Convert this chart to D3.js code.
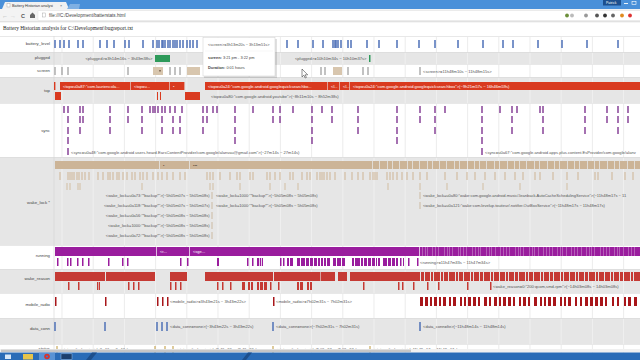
<!DOCTYPE html>
<html><head><meta charset="utf-8">
<script src="https://cdn.jsdelivr.net/npm/d3@7"></script>
<style>body{margin:0;overflow:hidden;background:#fff}svg{display:block}</style>
</head><body><svg id="c" width="640" height="360"></svg>
<script>
// ---------------- DATA (time offsets along the timeline) ----------------
const rowNames = ["battery_level","plugged","screen","top","sync","wake_lock *","running","wake_reason","mobile_radio","data_conn","status"];
const hourGrid = d3.range(7, 585, 31.2);

const batteryLevelTicks = [0,5,9,14,23,28,45,52,59,70,74,88,98,102,104,107,108,110,113,115,118,120,122,125,128,132,135,138,142,155,168,180,196,210,232,243,258,268,278,280,281,283,286,293,296,312,324,342,364,380,403,428,448,458,483,507,532,563];

const pluggedSpans = [[100,115],[314,315.5]];
const pluggedNotes = [{t:100,text:"<plugged>=3h14m16s ~ 3h43m38s>",anchor:"end"},{t:314,text:"<plugged>=10h10m34s ~ 10h10m37s>",anchor:"end"}];

const screenTicks = [0,7,13,73,115,120,125,266,270,293,308,313,365];
const screenSpans = [[98,108],[132,145],[150,162],[278,287]];
const screenNotes = [{t:365,text:"<screen>=11h48m10s ~ 11h48m15s>",anchor:"start"}];

const topLane1 = [
  {s:-1,e:1,label:""},
  {s:5,e:76,label:'<top=u0a87:"com.lauriencola...'},
  {s:76,e:115,label:"<top=u..."},
  {s:115,e:130,label:"•"},
  {s:150,e:273,label:'<top=u0a24:"com.google.android.googlequicksearchbo...'},
  {s:273,e:285,label:"<l..."},
  {s:285,e:295,label:"<l..."},
  {s:295,e:590,label:'<top=u0a24:"com.google.android.googlequicksearchbox">(~9h21m57s ~ 16h46m59s)'}
];
const topLane2 = [[0,6],[102,103],[105,106],[130,145]];
const topNotes = [{t:153,text:'<top=u0a80:"com.google.android.youtube">(~8h11m10s ~ 8h52m38s)',anchor:"start"}];

const syncLanes = [
  [9,13,25,28,55,73,87,95,98,100,103,107,110,115,120,127,148,152,158,162,180,198,218,225,238,257,267,277,303,342,365,380,390,427,445,457,462,485,488,530,552,563,573],
  [13,25,28,55,73,87,107,118,125,148,152,180,218,225,257,277,303,342,365,380,427,457,488,530,552,563,573],
  [13,25,55,87,107,118,125,148,180,257,303,342,380,427,457,488,530,563],
  [13,180,257,342,427],
  [13,427]
];
const syncNotes = [
  {t:13,text:'<sync=u0a48:"com.google.android.users.heard.EarsContentProvider/com.google/alanvau@gmail.com">(~27m14s ~ 27m14s)',anchor:"start"},
  {t:427,text:'<sync=u0a67:"com.google.android.apps.plus.content.EsProvider/com.google/alanv',anchor:"start"}
];

const wakeLockBarBreaks = [0,105,135,318,325,333,338,345,353,358,365,373,378,385,392,400,405,413,420,425,432,440,445,453,460,465,472,480,485,493,500,505,513,520,525,533,540,545,553,560,565,573,580,590];
const wakeLockBarLabels = [{t:105,text:"•"},{t:135,text:"•••"}];
const wakeLockLane2 = [5,13,15,17,19,22,24,27,30,34,43,48,53,55,58,62,64,68,72,77,80,85,88,92,98,103,107,112,118,125,130,152,155,158,165,175,182,185,195,198,212,215,220,225,235,238,247,252,255,262,265,267,269,272,275,280,290,297,303,308,315,318,320,322,332,335,338,342,347,352,358,365,372,390,402,412,420,430,440,450,460,468,480,485,498,512,523,540,543,557,570,578];
const wakeLockLane3 = [12,15,23,25,87,155,158,185,215,230,243,333,365,392,428,465,512];
const wakeLockEventT = 157;
const wakeLockLeftNotes = [
  '<wake_lock=u0a73:"*backup*">(~5h05m07s ~ 5h05m08s)',
  '<wake_lock=u0a118:"*backup*">(~5h05m07s ~ 5h05m07s)',
  '<wake_lock=u0a56:"*backup*">(~5h05m08s ~ 5h05m08s)',
  '<wake_lock=1000:"*backup*">(~5h05m08s ~ 5h05m08s)',
  '<wake_lock=u0a72:"*backup*">(~5h05m08s ~ 5h05m08s)'
];
const wakeLockMidNotes = [
  '<wake_lock=1000:"*backup*">(~5h05m08s ~ 5h05m08s)',
  '<wake_lock=1000:"*backup*">(~5h05m08s ~ 5h05m08s)'
];
const wakeLockLateT = 365;
const wakeLockRightNotes = [
  '<wake_lock=u0a80:"wake:com.google.android.music/.leanback.AutoCacheSchedulingService">(~11h48m17s ~ 11',
  '<wake_lock=u0a121:"wake:com.levelup.touiteur/.notifier.OutBoxService">(~11h48m17s ~ 11h48m17s)'
];

const runningBarBreaks = [0,102,135,365,368,371,373,378,381,384,390,393,395,398,404,406,409,412,418,421,424,426,432,435,437,441,446,449,452,455,461,464,466,469,475,478,480,484,489,492,495,498,503,506,508,512,517,520,523,527,532,535,537,540,546,549,552,555,560,563,565,569,574,577,580,590];
const runningBarLabels = [{t:102,text:"<r..."},{t:135,text:"<sge..."}];
const runningLane2 = [[2,3.5],[12,13.5],[15,16.5],[22,23.5],[27,28.5],[33,34.5],[53,54.5],[67,68.5],[72,73.5],[125,126.5],[132,133.5],[162,164],[192,193.5],[197,198.5],[202,204],[204.8,206],[206.8,208],[225,226.5],[228,229.5],[232,234],[235,238],[242,245],[246,250],[251,254],[255,258],[259,262],[263,265],[266,268],[269,271],[272,275],[278,281],[282,286],[287,290],[297,299],[300,305],[306,308],[309,312],[313,316],[317,320],[321,322],[323,325],[328,332],[333,336],[337,340],[341,343],[345,346.5],[348,349],[353,354.5],[362,363.5]];
const runningNotes = [{t:362,text:"<running>=11h47m33s ~ 11h47m34s>",anchor:"start"}];

const wakeReasonBarSpans = [[0,50],[51,100],[115,132],[150,218],[219,265],[265.6,280],[283,292],[295,365],[366,369],[370,375],[376,378],[379,385],[386,388],[389,393],[394,400],[401,403],[404,408],[409,415],[416,418],[419,424],[425,428],[429,435],[436,438],[439,444],[445,450],[451,453],[454,459],[460,463],[464,470],[471,473],[474,478],[479,485],[486,488],[489,494],[495,498],[499,505],[506,508],[509,514],[515,520],[521,523],[524,529],[530,533],[534,540],[541,543],[544,549],[550,555],[556,558],[559,564],[565,568],[569,575],[576,578],[579,590]];
const wakeReasonLane2 = [[13,14.5],[23,24.5],[42,43.2],[43.8,45],[73,74.5],[78,79.5],[83,84.5],[115,116.5],[120,121.5],[125,126.5],[162,163.5],[167,168.5],[175,176.5],[187,190],[193,195],[196,198],[202,204],[205,208],[209,212],[215,216.5],[223,224.5],[242,244],[245,248],[252,254],[255,257],[308,309.5],[343,344.5],[347,348.5],[358,359.5],[372,373.5],[383,384.5],[412,413.5],[435,436.5]];
const wakeReasonNotes = [{t:435,text:'<wake_reason=0:"200:qcom,smd-rpm">(~14h03m08s ~ 14h03m08s)',anchor:"start"}];

const mobileRadioSpans = [[0,1.5],[50,51.5],[102,103.5],[107,108.5],[112,113.5],[218,219.5],[365,368],[370,373],[375,377],[379,382],[384,386],[388,391],[394,396],[398,401],[405,407],[409,411],[413,416],[418,421],[423,425],[429,432],[434,436],[439,442],[444,446],[448,451],[453,456],[458,460],[464,466],[468,471],[473,475],[479,482],[485,487],[489,491],[493,496],[498,501],[505,507],[509,511],[513,516],[520,522],[525,527],[530,533],[535,538],[540,543],[545,548],[550,552],[557,559],[562,564],[569,571],[573,576],[579,582]];
const mobileRadioNotes = [{t:112,text:"<mobile_radio>=3h43m21s ~ 3h43m22s>",anchor:"start"},{t:218,text:"<mobile_radio>=7h02m31s ~ 7h02m31s>",anchor:"start"}];

const dataConnTicks = [0,50,102,107,112,218,365];
const dataConnNotes = [{t:112,text:"<data_conn=none>(~3h43m22s ~ 3h43m22s)",anchor:"start"},{t:218,text:"<data_conn=none>(~7h02m31s ~ 7h02m31s)",anchor:"start"},{t:365,text:"<data_conn=lte>(~11h48m14s ~ 11h48m14s)",anchor:"start"}];

const statusTicks = [2,100,110,118,218,315];
const statusNotes = [{t:2,text:"<status=discharging>(~3m13s ~ 3m13s)",anchor:"start"},{t:118,text:"<status=discharging>(~3h43m22s ~ 3h43m22s)",anchor:"start"},{t:218,text:"<status=discharging>(~7h02m37s ~ 7h02m37s)",anchor:"start"},{t:315,text:"<status=discharging>(~11h48m17s ~ 11h48m17s)",anchor:"start"}];

const tooltipLines = ["<screen>=3h13m20s ~ 3h13m51s>","screen:","3:21 pm - 3:22 pm","Duration:","0:01 hours"];
const pageTitle = "Battery Historian analysis for C:\\Development\\bugreport.txt";
const pageUrl = "file:///C:/Development/batterstats.html";

// ---------------- LAYOUT ----------------
const svg = d3.select("#c");
const x = d3.scaleLinear().domain([0,585]).range([55,640]);
const rowBands = [[36,52],[52,64],[64,77],[77,103],[103,157],[157,245],[245,269],[269,293],[293,318],[318,344],[344,353]];
const rowLabelY = [45,59,72,92,132,204,257,280,306,330,350];
const greyRows = new Set([1,3,5,7,9]);
const F = "'Liberation Sans', Arial, sans-serif";

svg.append("rect").attr("width",640).attr("height",360).attr("fill","#fff");

const rows = svg.append("g");
rows.selectAll("rect").data(rowBands).join("rect")
  .attr("x",0).attr("y",d=>d[0]).attr("width",640).attr("height",d=>d[1]-d[0])
  .attr("fill",(d,i)=>greyRows.has(i)?"#e6e6e6":"#ffffff");
rows.selectAll("line.sep").data(rowBands).join("line").attr("class","sep")
  .attr("x1",0).attr("x2",640).attr("y1",d=>d[0]+0.5).attr("y2",d=>d[0]+0.5).attr("stroke","#d9d9d9").attr("stroke-width",0.6);

const grid = svg.append("g");
rowBands.forEach((b,i)=>{
  grid.selectAll(null).data(hourGrid).join("line")
    .attr("x1",d=>x(d)).attr("x2",d=>x(d)).attr("y1",b[0]+1).attr("y2",b[1])
    .attr("stroke",greyRows.has(i)?"#f4f4f4":"#e4e4e4").attr("stroke-width",0.7);
});
svg.append("line").attr("x1",54).attr("x2",54).attr("y1",36).attr("y2",353).attr("stroke","#d4d4d4").attr("stroke-width",0.6);

svg.append("g").selectAll("text").data(rowNames).join("text")
  .attr("x",50).attr("y",(d,i)=>rowLabelY[i]).attr("text-anchor","end")
  .attr("font-family",F).attr("font-size",4.3).attr("fill","#444").text(d=>d);

svg.append("clipPath").attr("id","clip").append("rect").attr("x",53).attr("y",30).attr("width",590).attr("height",330);
const C = svg.append("g").attr("clip-path","url(#clip)");

function ticks(times,y,h,color,w=1.4){
  C.append("g").selectAll("rect").data(times).join("rect")
   .attr("x",d=>x(d)-w/2).attr("y",y).attr("width",w).attr("height",h).attr("fill",color);
}
function spans(list,y,h,color){
  C.append("g").selectAll("rect").data(list).join("rect")
   .attr("x",d=>x(d[0])).attr("y",y).attr("width",d=>Math.max(1,x(d[1])-x(d[0]))).attr("height",h).attr("fill",color);
}
function segBar(breaks,y,h,color,gap=0.7){
  const segs = d3.pairs(breaks);
  C.append("g").selectAll("rect").data(segs).join("rect")
   .attr("x",d=>x(d[0])).attr("y",y).attr("width",d=>Math.max(0.6,x(d[1])-x(d[0])-gap)).attr("height",h).attr("fill",color);
}
function notes(list,y,color="#555",fs=4.1){
  C.append("g").selectAll("text").data(list).join("text")
   .attr("x",d=>d.anchor==="end"?x(d.t)-2.5:x(d.t)+3).attr("y",y)
   .attr("text-anchor",d=>d.anchor).attr("font-family",F).attr("font-size",fs).attr("fill",color).text(d=>d.text);
}

ticks(batteryLevelTicks,40,8,"#4d70b8",1.5);
spans(pluggedSpans,55,7,"#2e9a5a");
notes(pluggedNotes,60.2);
ticks(screenTicks,67,8,"#9a9a9a",1.2);
spans(screenSpans,67,8,"#d8c6ae");
C.append("rect").attr("x",x(104)).attr("y",70).attr("width",2).attr("height",1.5).attr("fill","#8a7560");
notes(screenNotes,72.5);
const TOP="#d93a1f";
C.append("g").selectAll("rect").data(topLane1).join("rect")
  .attr("x",d=>x(d.s)).attr("y",82).attr("width",d=>x(d.e)-x(d.s)-0.6).attr("height",8).attr("fill",TOP);
C.append("g").selectAll("text").data(topLane1).join("text")
  .attr("x",d=>x(d.s)+3).attr("y",87.5).attr("font-family",F).attr("font-size",4.1).attr("fill","#fff").text(d=>d.label);
spans(topLane2,92,8,TOP);
notes(topNotes,97.5);
const syncY=[106,116,127,137,148];
syncLanes.forEach((lane,i)=>ticks(lane,syncY[i],7,"#7f3590",1.4));
notes(syncNotes,153.5);
const WL="#ccb497";
segBar(wakeLockBarBreaks,161,8,WL,0.8);
C.append("g").selectAll("text").data(wakeLockBarLabels).join("text")
  .attr("x",d=>x(d.t)+3).attr("y",166.5).attr("font-family",F).attr("font-size",4).attr("fill","#5a4a3a").text(d=>d.text);
ticks(wakeLockLane2,172,8,"#d4c1a8",1.3);
ticks(wakeLockLane3,183,7,"#d4c1a8",1.1);
const wlY=[192,202,212,222,232];
wakeLockLeftNotes.forEach((t,i)=>{
  ticks([wakeLockEventT],wlY[i],7,"#cbb79c",0.9);
  notes([{t:wakeLockEventT,text:t,anchor:"end"}],wlY[i]+5,"#555",4.0);
});
wakeLockMidNotes.forEach((t,i)=>notes([{t:wakeLockEventT+1,text:t,anchor:"start"}],wlY[i]+5,"#555",4.0));
wakeLockRightNotes.forEach((t,i)=>{
  ticks([wakeLockLateT],wlY[i],7,"#cbb79c",0.9);
  notes([{t:wakeLockLateT,text:t,anchor:"start"}],wlY[i]+5,"#555",4.0);
});
const RUN="#9a1d9e";
C.append("rect").attr("x",x(365)).attr("y",247).attr("width",x(590)-x(365)).attr("height",9).attr("fill","#c27ac4");
segBar(runningBarBreaks,247,9,RUN,0.7);
C.append("g").selectAll("text").data(runningBarLabels).join("text")
  .attr("x",d=>x(d.t)+3).attr("y",253).attr("font-family",F).attr("font-size",4).attr("fill","#fff").text(d=>d.text);
spans(runningLane2,258,8,RUN);
notes(runningNotes,263.5);
const WR="#c53a34";
spans(wakeReasonBarSpans,272,9,WR);
spans(wakeReasonLane2,282,8,WR);
notes(wakeReasonNotes,287.5);
spans(mobileRadioSpans,297,9,"#a8161a");
notes(mobileRadioNotes,302.5);
ticks(dataConnTicks,322,9,"#4469b3",1.4);
notes(dataConnNotes,327.5);
ticks(statusTicks,346,8,"#c9aa5c",1.2);
notes(statusNotes,350.5,"#555",3.8);

svg.append("text").attr("x",3).attr("y",30).attr("font-family","'Liberation Serif', 'Times New Roman', serif")
  .attr("font-size",5.4).attr("fill","#222").text(pageTitle);

const tip = svg.append("g");
tip.append("rect").attr("x",204).attr("y",39).attr("width",73).attr("height",39).attr("fill","#000").attr("opacity",0.12);
tip.append("rect").attr("x",203).attr("y",37.5).attr("width",72).attr("height",38.5).attr("fill","#fff").attr("stroke","#cfcfcf").attr("stroke-width",0.5);
tip.append("text").attr("x",208).attr("y",46).attr("font-family",F).attr("font-size",3.9).attr("fill","#555").text(tooltipLines[0]);
tip.append("line").attr("x1",205).attr("x2",273).attr("y1",51).attr("y2",51).attr("stroke","#eee").attr("stroke-width",0.5);
const t2 = tip.append("text").attr("x",208).attr("y",59).attr("font-family",F).attr("font-size",3.9).attr("fill","#444");
t2.append("tspan").attr("font-weight","bold").text(tooltipLines[1]);
t2.append("tspan").text(" "+tooltipLines[2]);
const t3 = tip.append("text").attr("x",208).attr("y",69).attr("font-family",F).attr("font-size",3.9).attr("fill","#444");
t3.append("tspan").attr("font-weight","bold").text(tooltipLines[3]);
t3.append("tspan").text(" "+tooltipLines[4]);

svg.append("path").attr("transform","translate(302,69)")
  .attr("d","M0,0 L0,8 L1.9,6.2 L3.2,9 L4.4,8.4 L3.1,5.8 L5.7,5.8 Z")
  .attr("fill","#fff").attr("stroke","#222").attr("stroke-width",0.5);

const ch = svg.append("g");
ch.append("rect").attr("x",0).attr("y",0).attr("width",640).attr("height",9).attr("fill","#4a90d9");
ch.append("path").attr("d","M2,9 L5,2 L66,2 L69,9 Z").attr("fill","#f1f1f1");
ch.append("path").attr("d","M67,9 L70,4 L80,4 L79,9 Z").attr("fill","#7fb0e3");
ch.append("rect").attr("x",7).attr("y",3.5).attr("width",3).attr("height",3.5).attr("fill","#fff").attr("stroke","#999").attr("stroke-width",0.4);
ch.append("text").attr("x",12).attr("y",7).attr("font-family",F).attr("font-size",3.8).attr("fill","#333").text("Battery Historian analysi");
ch.append("text").attr("x",60).attr("y",7).attr("font-family",F).attr("font-size",3.8).attr("fill","#555").text("×");
ch.append("rect").attr("x",603).attr("y",0).attr("width",18).attr("height",5.5).attr("fill","#1c4f8e");
ch.append("text").attr("x",606).attr("y",4.3).attr("font-family",F).attr("font-size",3.4).attr("fill","#fff").text("Patrick");
ch.append("rect").attr("x",624).attr("y",3).attr("width",4).attr("height",0.9).attr("fill","#fff");
ch.append("rect").attr("x",632).attr("y",1.5).attr("width",4).attr("height",3).attr("fill","none").attr("stroke","#fff").attr("stroke-width",0.6);
ch.append("rect").attr("x",0).attr("y",9).attr("width",640).attr("height",13).attr("fill","#f3f3f3");
ch.append("line").attr("x1",0).attr("x2",640).attr("y1",21.8).attr("y2",21.8).attr("stroke","#c7c7c7").attr("stroke-width",0.6);
ch.append("text").attr("x",2).attr("y",17.5).attr("font-family",F).attr("font-size",6).attr("fill","#aaa").text("←");
ch.append("text").attr("x",10).attr("y",17.5).attr("font-family",F).attr("font-size",6).attr("fill","#ccc").text("→");
ch.append("text").attr("x",21).attr("y",17.6).attr("font-family",F).attr("font-size",5.5).attr("font-weight","bold").attr("fill","#555").text("C");
ch.append("path").attr("d","M30,15 L32.5,12.5 L35,15 L35,18 L30,18 Z").attr("fill","#666");
ch.append("rect").attr("x",38).attr("y",10.8).attr("width",605).attr("height",9.5).attr("fill","#fff").attr("stroke","#dcdcdc").attr("stroke-width",0.4);
ch.append("rect").attr("x",42.5).attr("y",13).attr("width",3).attr("height",4).attr("fill","#fff").attr("stroke","#999").attr("stroke-width",0.4);
ch.append("text").attr("x",49).attr("y",17.3).attr("font-family",F).attr("font-size",4.6).attr("fill","#444").text(pageUrl);
const iconX=[567,572,586,597,605,613,622,630];
const iconC=["#6c8f3a","#bbb","#999","#555","#333","#666","#e08a1e","#d33"];
ch.selectAll("circle.ic").data(iconX).join("circle").attr("class","ic").attr("cx",d=>d).attr("cy",15.5).attr("r",1.9)
  .attr("fill",(d,i)=>iconC[i]);

ch.append("rect").attr("x",0).attr("y",349).attr("width",640).attr("height",3.5).attr("fill","#f0f0f0");
ch.append("rect").attr("x",1).attr("y",349.6).attr("width",410).attr("height",2.4).attr("fill","#c6c6c6");
ch.append("rect").attr("x",0).attr("y",352.5).attr("width",640).attr("height",7.5).attr("fill","#2a6cb7");
ch.append("path").attr("d","M86,360 L92,352.5 L97,352.5 L91,360 Z").attr("fill","#1d4f8c");
ch.append("path").attr("d","M242,360 L248,352.5 L252,352.5 L246,360 Z").attr("fill","#1d4f8c");
ch.append("rect").attr("x",5).attr("y",354.5).attr("width",6).attr("height",4.5).attr("fill","#d8e8f8");
ch.append("rect").attr("x",23).attr("y",354).attr("width",10).attr("height",5.5).attr("fill","#e6c44a");
ch.append("rect").attr("x",39).attr("y",352.8).attr("width",16).attr("height",7.2).attr("fill","#5a93d4");
ch.append("circle").attr("cx",47).attr("cy",356.5).attr("r",2.8).attr("fill","#d8342a");
ch.append("circle").attr("cx",47).attr("cy",356.5).attr("r",1.1).attr("fill","#3a78d8");
ch.append("rect").attr("x",61).attr("y",353.8).attr("width",11).attr("height",5.5).attr("fill","#1b3f6e").attr("stroke","#9cc0e8").attr("stroke-width",0.5);
</script></body></html>
